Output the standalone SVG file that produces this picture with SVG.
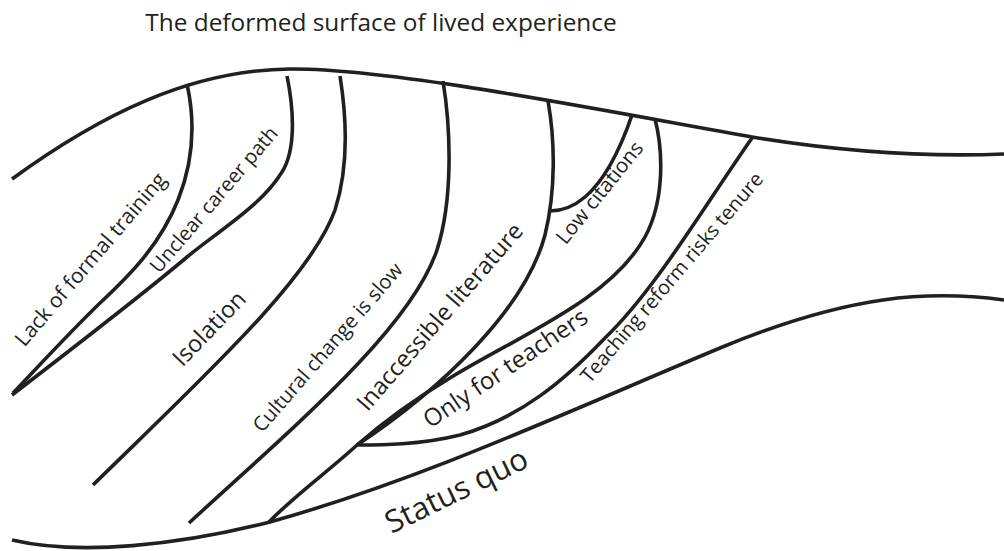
<svg xmlns="http://www.w3.org/2000/svg" width="1004" height="551" viewBox="0 0 1004 551">
<style>
.ln{fill:none;stroke:#231f20;stroke-width:3.6;stroke-linecap:butt;stroke-linejoin:round}
.t{font-family:"Open Sans","Noto Sans","DejaVu Sans",sans-serif;fill:#231f20;text-anchor:middle}
</style>
<rect width="1004" height="551" fill="#ffffff"/>
<text id="title" class="t" x="381" y="31" font-size="24.4">The deformed surface of lived experience</text>
<g id="connectors">
<path id="surface-top" class="ln" d="M12,179 C100,115 190,70 290,69 C390,68 600,110 752,137 C850,153 930,157 1004,154"/>
<path id="surface-bottom" class="ln" d="M12,540 C80,556 180,545 270,522 C420,480 560,415 720,348 C850,294 930,290 1004,300"/>
<path id="l1" class="ln" d="M187,84 C195,120 194,160 178,200 C160,245 130,275 100,303 C70,332 35,370 13,393"/>
<path id="l2" class="ln" d="M287,76 C294,110 296,150 282,172 C262,205 220,230 187,257 C160,280 90,335 12,395"/>
<path id="l3" class="ln" d="M340,76 C347,120 348,170 335,210 C310,280 200,380 93,485"/>
<path id="l4" class="ln" d="M443,81 C451,130 453,200 437,250 C410,330 290,430 189,523"/>
<path id="l5" class="ln" d="M548,101 C555,140 556,190 545,235 C525,310 440,390 357,445 C330,470 295,495 269,522"/>
<path id="l5b" class="ln" d="M632,115 C620,150 605,180 585,197 C572,208 560,211 550,211"/>
<path id="l6" class="ln" d="M655,119 C663,150 665,200 645,237 C610,300 520,335 450,378 C410,402 380,425 357,445"/>
<path id="l7" class="ln" d="M752,138 C705,205 655,290 605,338 C565,380 520,418 460,435 C420,445 380,445 357,445"/>
</g>
<g id="n-lack"><text class="t" font-size="21" transform="translate(96,264) rotate(-49.5)">Lack of formal training</text></g>
<g id="n-unclear"><text class="t" font-size="20" transform="translate(219,204) rotate(-49.5)">Unclear career path</text></g>
<g id="n-isolation"><text class="t" font-size="23.5" transform="translate(215,334) rotate(-46)">Isolation</text></g>
<g id="n-cultural"><text class="t" font-size="20.3" transform="translate(333,352) rotate(-49)">Cultural change is slow</text></g>
<g id="n-inaccessible"><text class="t" font-size="23.5" transform="translate(446,322) rotate(-49)">Inaccessible literature</text></g>
<g id="n-low"><text class="t" font-size="20.5" transform="translate(605,197) rotate(-51)">Low citations</text></g>
<g id="n-only"><text class="t" font-size="24" transform="translate(510,375) rotate(-34)">Only for teachers</text></g>
<g id="n-teaching"><text class="t" font-size="20" transform="translate(677,282) rotate(-49.5)">Teaching reform risks tenure</text></g>
<g id="n-status"><text class="t" font-size="31" transform="translate(461,500) rotate(-26)">Status quo</text></g>
</svg>
